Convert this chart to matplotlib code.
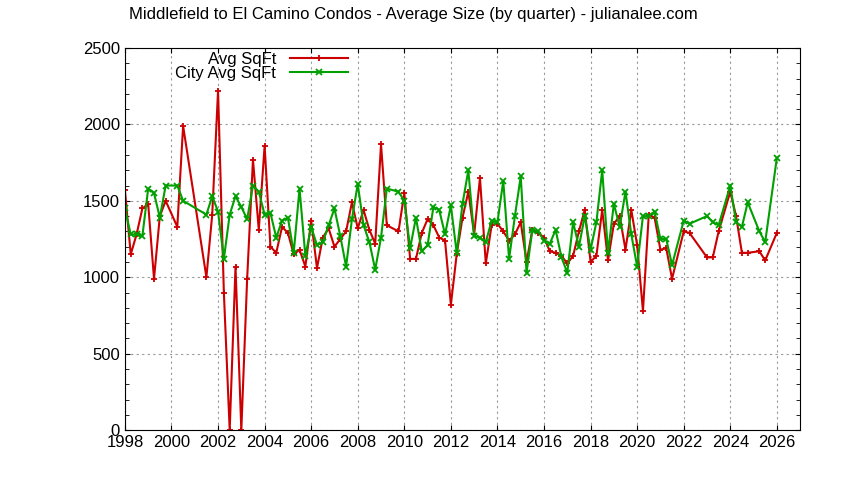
import matplotlib.pyplot as plt
from matplotlib.ticker import MultipleLocator

plt.rcParams["font.family"] = "Liberation Sans"

# quarter (decimal year) and average sqft
years = [1998.0, 1998.25, 1998.5, 1998.75, 1999.0, 1999.25, 1999.5, 1999.75, 2000.25, 2000.5,
         2001.5, 2001.75, 2002.0, 2002.25, 2002.5, 2002.75, 2003.0, 2003.25, 2003.5, 2003.75,
         2004.0, 2004.25, 2004.5, 2004.75, 2005.0, 2005.25, 2005.5, 2005.75, 2006.0, 2006.25,
         2006.5, 2006.75, 2007.0, 2007.25, 2007.5, 2007.75, 2008.0, 2008.25, 2008.5, 2008.75,
         2009.0, 2009.25, 2009.75, 2010.0, 2010.25, 2010.5, 2010.75, 2011.0, 2011.25, 2011.5,
         2011.75, 2012.0, 2012.25, 2012.5, 2012.75, 2013.0, 2013.25, 2013.5, 2013.75, 2014.0,
         2014.25, 2014.5, 2014.75, 2015.0, 2015.25, 2015.5, 2015.75, 2016.0, 2016.25, 2016.5,
         2016.75, 2017.0, 2017.25, 2017.5, 2017.75, 2018.0, 2018.25, 2018.5, 2018.75, 2019.0,
         2019.25, 2019.5, 2019.75, 2020.0, 2020.25, 2020.5, 2020.75, 2021.0, 2021.25, 2021.5,
         2022.0, 2022.25, 2023.0, 2023.25, 2023.5, 2024.0, 2024.25, 2024.5, 2024.75, 2025.25,
         2025.5, 2026.0]

avg_sqft = [1570, 1150, 1280, 1450, 1480, 990, 1400, 1500, 1330, 1990,
            1000, 1410, 2220, 900, 0, 1070, 0, 990, 1770, 1310,
            1860, 1200, 1160, 1330, 1290, 1150, 1180, 1070, 1370, 1060,
            1260, 1320, 1200, 1250, 1300, 1490, 1320, 1440, 1310, 1220,
            1870, 1340, 1300, 1550, 1120, 1120, 1290, 1380, 1340, 1260,
            1240, 820, 1150, 1390, 1560, 1280, 1650, 1090, 1340, 1350,
            1300, 1240, 1280, 1360, 1100, 1310, 1290, 1260, 1170, 1160,
            1140, 1090, 1140, 1300, 1440, 1100, 1140, 1440, 1110, 1350,
            1400, 1180, 1440, 1210, 780, 1410, 1390, 1180, 1190, 990,
            1300, 1290, 1130, 1130, 1300, 1560, 1400, 1160, 1160, 1170,
            1110, 1290]

city_avg_sqft = [1450, 1280, 1280, 1270, 1580, 1550, 1390, 1600, 1600, 1500,
                 1410, 1530, 1430, 1120, 1410, 1530, 1460, 1380, 1600, 1560,
                 1410, 1420, 1260, 1370, 1390, 1160, 1580, 1140, 1330, 1210,
                 1230, 1340, 1450, 1270, 1070, 1380, 1610, 1340, 1230, 1050,
                 1260, 1580, 1560, 1500, 1190, 1390, 1170, 1210, 1460, 1440,
                 1280, 1470, 1160, 1480, 1700, 1270, 1260, 1230, 1370, 1360,
                 1630, 1120, 1400, 1660, 1030, 1310, 1300, 1240, 1220, 1310,
                 1130, 1030, 1360, 1200, 1400, 1180, 1360, 1700, 1160, 1480,
                 1330, 1560, 1280, 1070, 1400, 1400, 1430, 1250, 1250, 1080,
                 1370, 1350, 1400, 1360, 1340, 1600, 1360, 1330, 1490, 1300,
                 1230, 1780]

fig = plt.figure(figsize=(8.44, 4.8), dpi=100)
ax = fig.add_axes([0.148, 0.104, 0.80, 0.796])

ax.plot(years, avg_sqft, color="#cc0000", linewidth=1.5, marker="+",
        markersize=5, markeredgewidth=1.3, label="Avg SqFt")
ax.plot(years, city_avg_sqft, color="#00a000", linewidth=1.5, marker="x",
        markersize=4, markeredgewidth=1.3, label="City Avg SqFt")

ax.set_xlim(1998, 2027)
ax.set_ylim(0, 2500)
ax.xaxis.set_major_locator(MultipleLocator(2))
ax.yaxis.set_major_locator(MultipleLocator(500))
ax.yaxis.set_minor_locator(MultipleLocator(100))
ax.tick_params(direction="in", which="both", top=True, right=True, labelsize=12)
ax.tick_params(which="minor", length=3)
ax.grid(True, which="major", linestyle=(0, (2, 3)), color="#999999", linewidth=0.8)

ax.legend(loc="upper left", bbox_to_anchor=(0.06, 1.015), frameon=False,
          markerfirst=False, fontsize=12, handlelength=3.5, borderaxespad=0.2,
          labelspacing=-0.1)

fig.suptitle("Middlefield to El Camino Condos - Average Size (by quarter) - julianalee.com",
             x=0.49, y=0.985, fontsize=12)

fig.savefig("out.png", dpi=100)
